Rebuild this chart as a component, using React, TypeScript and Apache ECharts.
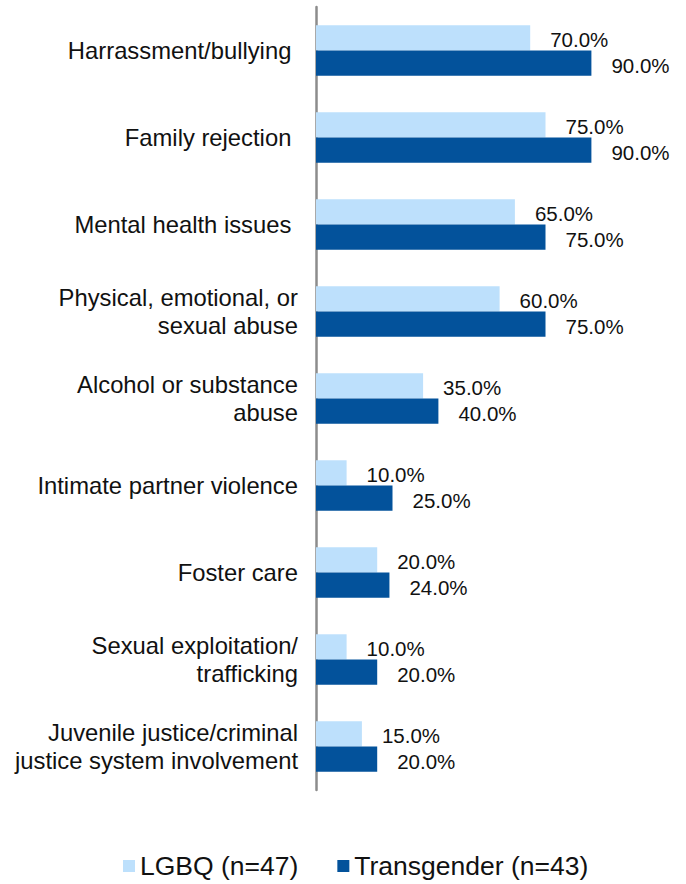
import React, { useEffect, useRef } from "react";
import * as echarts from "echarts";

const categories = [
  "Harrassment/bullying ",
  "Family rejection ",
  "Mental health issues ",
  "Physical, emotional, or\nsexual abuse",
  "Alcohol or substance\nabuse",
  "Intimate partner violence",
  "Foster care",
  "Sexual exploitation/\ntrafficking",
  "Juvenile justice/criminal\njustice system involvement",
];
const lgbqValues = [70, 75, 65, 60, 35, 10, 20, 10, 15];
const transValues = [90, 90, 75, 75, 40, 25, 24, 20, 20];
const seriesNames = ["LGBQ (n=47)", "Transgender (n=43)"];
const FONT = "'Liberation Sans', Arial, Helvetica, sans-serif";

export default function App() {
  const ref = useRef<HTMLDivElement>(null);
  useEffect(() => {
    if (!ref.current) return;
    const chart = echarts.init(ref.current, null, { renderer: "svg" });
    const label = {
      show: true,
      position: "right",
      distance: 20,
      offset: [0, 2],
      fontFamily: FONT,
      fontSize: 20.5,
      color: "#111",
      formatter: (p: any) => Number(p.value).toFixed(1) + "%",
    };
    chart.setOption({
      animation: false,
      textStyle: { fontFamily: FONT },
      grid: { left: 316, top: 7, width: 306, height: 783 },
      xAxis: { type: "value", min: 0, max: 100, show: false },
      yAxis: {
        type: "category",
        data: categories,
        inverse: true,
        axisLine: { show: true, lineStyle: { color: "#8c8c8c", width: 2.5 } },
        axisTick: { show: false },
        axisLabel: {
          margin: 18,
          fontFamily: FONT,
          fontSize: 23.8,
          color: "#111",
          align: "right",
          lineHeight: 28,
        },
      },
      legend: {
        top: 852,
        left: 123,
        padding: 0,
        itemWidth: 12,
        itemHeight: 12,
        itemGap: 39,
        icon: "rect",
        textStyle: { fontFamily: FONT, fontSize: 26.5, lineHeight: 28, color: "#111" },
        data: seriesNames,
      },
      series: [
        {
          name: seriesNames[0],
          type: "bar",
          data: lgbqValues,
          barGap: "0%",
          barCategoryGap: "42%",
          itemStyle: { color: "#BDE0FC" },
          label,
        },
        {
          name: seriesNames[1],
          type: "bar",
          data: transValues,
          itemStyle: { color: "#03529B" },
          label,
        },
      ],
    });
    return () => chart.dispose();
  }, []);
  return <div ref={ref} style={{ width: 686, height: 884, position: "absolute", left: 0, top: 0 }} />;
}
